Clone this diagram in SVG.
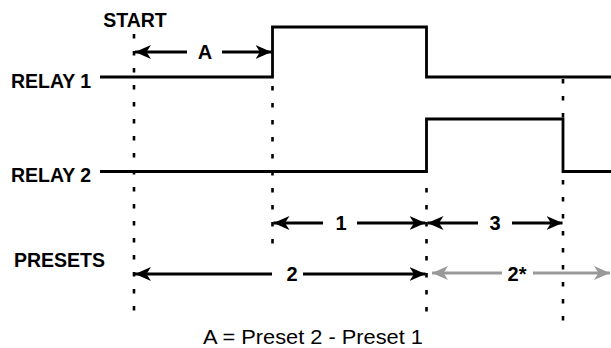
<svg xmlns="http://www.w3.org/2000/svg" width="611" height="348" viewBox="0 0 611 348">
  <style>
    .lbl { font-family: "Liberation Sans", Arial, sans-serif; font-weight: bold; font-size: 19.5px; fill: #000; }
    .num { font-size: 20px; }
    .mid { text-anchor: middle; }
    .wave { fill: none; stroke: #000; stroke-width: 2.8; stroke-linejoin: miter; }
    .dot { fill: none; stroke: #000; stroke-width: 2.6; stroke-dasharray: 4.5 12.5; }
    .arr { fill: none; stroke: #000; stroke-width: 2.8; }
    .garr { fill: none; stroke: #999; stroke-width: 2.8; }
    .note { font-family: "Liberation Sans", Arial, sans-serif; font-size: 21px; fill: #000; }
  </style>
  <defs>
    <marker id="ah" markerUnits="userSpaceOnUse" markerWidth="17" markerHeight="15" refX="16" refY="7" orient="auto-start-reverse" viewBox="0 0 17 15">
      <path d="M0,0 L16,7 L0,14 L4.5,7 z" fill="#000"/>
    </marker>
    <marker id="gah" markerUnits="userSpaceOnUse" markerWidth="17" markerHeight="15" refX="16" refY="7" orient="auto-start-reverse" viewBox="0 0 17 15">
      <path d="M0,0 L16,7 L0,14 L4.5,7 z" fill="#999"/>
    </marker>
  </defs>
  <rect width="611" height="348" fill="#fff"/>

  <g id="connectors">
    <!-- guide dotted lines -->
    <line class="dot" x1="134" y1="34" x2="134" y2="313"/>
    <line class="dot" x1="272.5" y1="86" x2="272.5" y2="245"/>
    <line class="dot" x1="426.5" y1="188" x2="426.5" y2="312"/>
    <line class="dot" x1="563" y1="79" x2="563" y2="118"/>
    <line class="dot" x1="563" y1="180" x2="563" y2="321"/>
    <!-- waveforms -->
    <polyline id="relay1-wave" class="wave" points="100,77 272.5,77 272.5,27 426.5,27 426.5,77 611,77"/>
    <polyline id="relay2-wave" class="wave" points="100,171.5 426.5,171.5 426.5,119 563,119 563,171.5 611,171.5"/>
    <!-- A -->
    <line class="arr" x1="187" y1="52" x2="135" y2="52" marker-end="url(#ah)"/>
    <line class="arr" x1="222" y1="52" x2="271.5" y2="52" marker-end="url(#ah)"/>
    <!-- 1 -->
    <line class="arr" x1="323" y1="223" x2="273.5" y2="223" marker-end="url(#ah)"/>
    <line class="arr" x1="357" y1="223" x2="425.5" y2="223" marker-end="url(#ah)"/>
    <!-- 3 -->
    <line class="arr" x1="478" y1="223" x2="427.5" y2="223" marker-end="url(#ah)"/>
    <line class="arr" x1="512" y1="223" x2="562.5" y2="223" marker-end="url(#ah)"/>
    <!-- 2 -->
    <line class="arr" x1="272" y1="274" x2="135" y2="274" marker-end="url(#ah)"/>
    <line class="arr" x1="303" y1="274" x2="425.5" y2="274" marker-end="url(#ah)"/>
    <!-- 2* -->
    <line class="garr" x1="502" y1="273" x2="432" y2="273" marker-end="url(#gah)"/>
    <line class="garr" x1="533" y1="273" x2="610" y2="273" marker-end="url(#gah)"/>
  </g>

  <g id="start"><text class="lbl mid" x="135" y="27">START</text></g>
  <g id="relay1"><text class="lbl" x="11" y="88">RELAY 1</text></g>
  <g id="relay2"><text class="lbl" x="11" y="182">RELAY 2</text></g>
  <g id="presets"><text class="lbl" x="14" y="267">PRESETS</text></g>
  <g id="label-a"><text class="lbl num mid" x="205" y="59">A</text></g>
  <g id="label-1"><text class="lbl num mid" x="341" y="230">1</text></g>
  <g id="label-3"><text class="lbl num mid" x="495" y="230">3</text></g>
  <g id="label-2"><text class="lbl num mid" x="292" y="281">2</text></g>
  <g id="label-2star"><text class="lbl num mid" x="517" y="281">2*</text></g>
  <g id="formula"><text class="note" x="203" y="344" textLength="220" lengthAdjust="spacingAndGlyphs">A = Preset 2 - Preset 1</text></g>
</svg>
